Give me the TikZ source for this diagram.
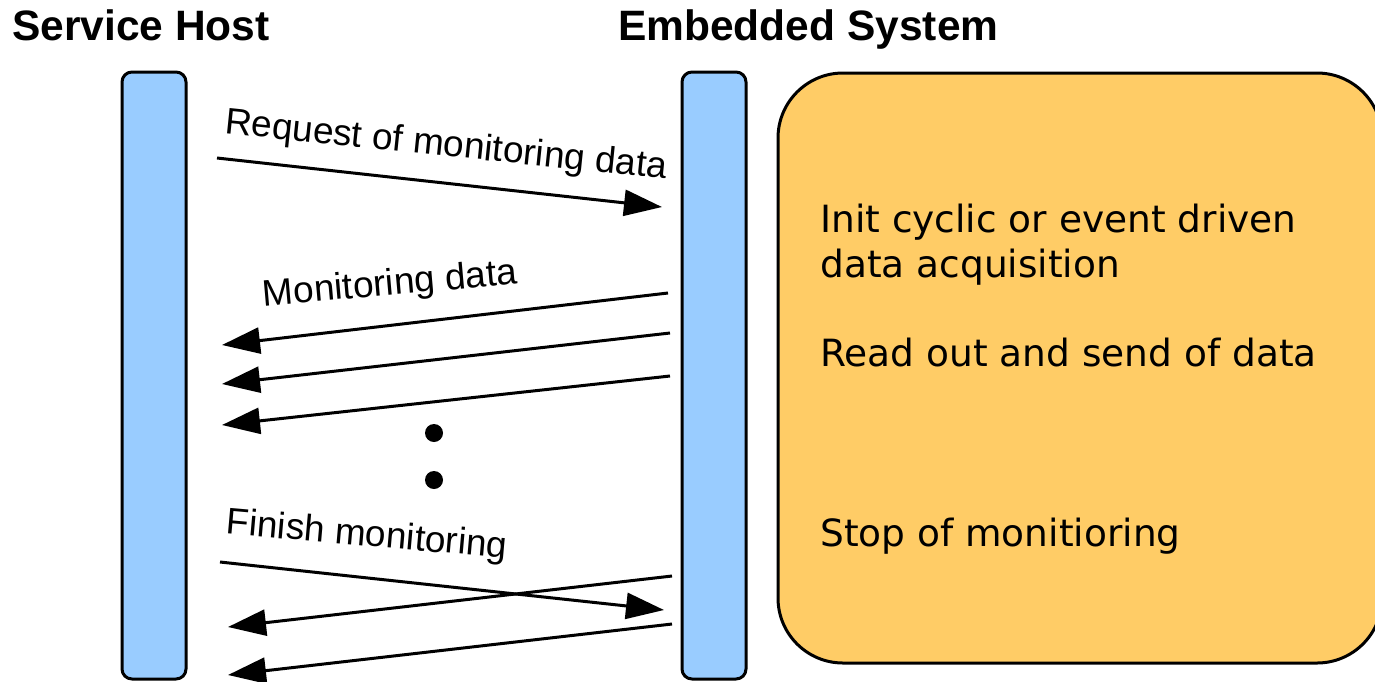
\documentclass[tikz,border=0pt]{standalone}
\usepackage{fontspec}
\setmainfont{Liberation Sans}
\newfontfamily\boxfont{DejaVu Sans}
\usetikzlibrary{arrows.meta}
\definecolor{barblue}{HTML}{99CCFF}
\definecolor{boxorange}{HTML}{FFCC66}
\tikzset{
  lifeline/.style={draw=black, line width=3pt, fill=barblue, rounded corners=10pt},
  activity/.style={draw=black, line width=3pt, fill=boxorange, rounded corners=65pt},
  msg/.style={line width=3pt, -{Triangle[length=38pt,width=26pt]}},
  msglabel/.style={inner sep=0pt, anchor=base, font=\fontsize{37}{44}\selectfont},
  title/.style={inner sep=0pt, anchor=base west, font=\fontsize{42.5}{50}\selectfont\bfseries},
  note/.style={inner sep=0pt, anchor=base west, font=\boxfont\fontsize{37.5}{45}\selectfont},
  dot/.style={circle, fill=black, inner sep=0pt, minimum size=18pt}
}
\begin{document}
\begin{tikzpicture}[x=1pt, y=-1pt]
\useasboundingbox (0,0) rectangle (1375,681);

% titles
\node[title] (host) at (12,40) {Service Host};
\node[title] (emb) at (618,40) {Embedded System};

% lifelines
\path[lifeline] (122,72) rectangle (186,679);
\path[lifeline] (682,72) rectangle (746,679);

% activity box of the embedded system
\path[activity] (778,73) rectangle (1382,663);
\node[note] (n1) at (820,232) {Init cyclic or event driven};
\node[note] (n2) at (820,277) {data acquisition};
\node[note] (n3) at (820,366) {Read out and send of data};
\node[note] (n4) at (820,546) {Stop of monitioring};

% message end points
\coordinate (r1) at (217,158);  \coordinate (r2) at (662,207);
\coordinate (a1) at (668,293);  \coordinate (a2) at (222,345);
\coordinate (b1) at (670,333);  \coordinate (b2) at (222,384);
\coordinate (c1) at (670,376);  \coordinate (c2) at (222,425);
\coordinate (f1) at (220,562);  \coordinate (f2) at (664,610);
\coordinate (d1) at (672,576);  \coordinate (d2) at (228,627);
\coordinate (e1) at (672,624);  \coordinate (e2) at (228,675);

% messages
\draw[msg] (r1) -- (r2);
\draw[msg] (a1) -- (a2);
\draw[msg] (b1) -- (b2);
\draw[msg] (c1) -- (c2);
\draw[msg] (f1) -- (f2);
\draw[msg] (d1) -- (d2);
\draw[msg] (e1) -- (e2);

% message labels
\node[msglabel, rotate=-5.9] (lr) at (445,156) {Request of monitoring data};
\node[msglabel, rotate=5] (lm) at (391,295) {Monitoring data};
\node[msglabel, rotate=-5] (lf) at (366,546) {Finish monitoring};

% continuation dots
\node[dot] (dt1) at (434,433) {};
\node[dot] (dt2) at (434,480) {};
\end{tikzpicture}
\end{document}
